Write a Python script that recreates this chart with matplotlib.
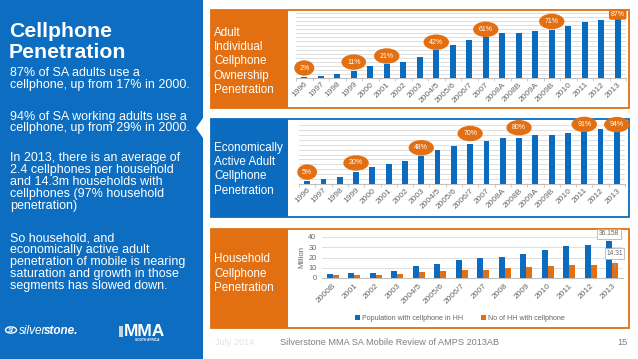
import matplotlib
matplotlib.use("Agg")
import matplotlib.pyplot as plt
from matplotlib.patches import Rectangle, Polygon, Circle
import numpy as np

plt.rcParams['font.family'] = ['Liberation Sans', 'DejaVu Sans']

# ---------------- data ----------------
years_a = ['1996', '1997', '1998', '1999', '2000', '2001', '2002', '2003', '2004/5', '2005/6',
           '2006/7', '2007', '2008A', '2008B', '2009A', '2009B', '2010', '2011', '2012', '2013']
adult_pen = [2, 3, 6, 11, 17, 21, 24, 31, 42, 49, 56, 61, 67, 67, 69, 71, 77, 82, 85, 87]
adult_labeled = [0, 3, 5, 8, 11, 15, 19]

active_pen = [5, 8, 12, 20, 29, 34, 39, 48, 58, 65, 70, 74, 80, 80, 84, 85, 88, 91, 95, 94]
active_labeled = [0, 3, 7, 10, 13, 17, 19]

years_h = ['2000B', '2001', '2002', '2003', '2004/5', '2005/6', '2006/7', '2007', '2008',
           '2009', '2010', '2011', '2012', '2013']
pop_hh = [3.9, 4.5, 5.2, 7.1, 11.4, 14.0, 17.2, 19.2, 20.8, 23.4, 27.0, 31.2, 31.8, 36.158]
hh_cell = [2.6, 2.9, 3.2, 4.2, 5.8, 7.1, 7.8, 8.1, 9.4, 10.7, 11.7, 13.0, 13.0, 14.31]
hh_series = ['Population with cellphone in HH', 'No of HH with cellphone']

title_lines = ['Cellphone', 'Penetration']
paragraphs = [
    ['87% of SA adults use a', 'cellphone, up from 17% in 2000.'],
    ['94% of SA working adults use a', 'cellphone, up from 29% in 2000.'],
    ['In 2013, there is an average of', '2.4 cellphones per household', 'and 14.3m households with',
     'cellphones (97% household', 'penetration)'],
    ['So household, and', 'economically active adult', 'penetration of mobile is nearing',
     'saturation and growth in those', 'segments has slowed down.'],
]
panel_titles = [
    ['Adult', 'Individual', 'Cellphone', 'Ownership', 'Penetration'],
    ['Economically', 'Active Adult', 'Cellphone', 'Penetration'],
    ['Household', 'Cellphone', 'Penetration'],
]
footer_date = 'July 2014'
footer_text = 'Silverstone MMA SA Mobile Review of AMPS 2013AB'
page_no = '15'

# ---------------- styles ----------------
BLUE = '#0b6cbf'
PANEL_BLUE = '#0c6dc1'
ORANGE = '#e26f12'
GRID = '#d9d9d9'
TXT = '#666666'

W, H = 638, 359
fig = plt.figure(figsize=(W / 100, H / 100), dpi=100)
fig.patch.set_facecolor('white')


def rect(x0, y0, x1, y1, **kw):
    fig.add_artist(Rectangle((x0 / W, 1 - y1 / H), (x1 - x0) / W, (y1 - y0) / H,
                             transform=fig.transFigure, zorder=-5, **kw))


def ftext(x, y, s, **kw):
    return fig.text(x / W, 1 - y / H, s, **kw)


def axes_px(x0, y0, x1, y1):
    ax = fig.add_axes([x0 / W, 1 - y1 / H, (x1 - x0) / W, (y1 - y0) / H])
    ax.set_zorder(2)
    return ax


# ---------------- left panel ----------------
rect(0, 0, 203, 359, facecolor=PANEL_BLUE, edgecolor='none')
fig.add_artist(Polygon([(203 / W, 1 - 118 / H), (196 / W, 1 - 128 / H), (203 / W, 1 - 138 / H)],
                       closed=True, transform=fig.transFigure, facecolor='white', edgecolor='none',
                       zorder=-4))
for i, line in enumerate(title_lines):
    ftext(9, 37 + 21 * i, line, color='white', fontsize=15.3, fontweight='bold', va='baseline')
starts = [76.2, 119.5, 161.2, 241.2]
for para, y0 in zip(paragraphs, starts):
    for j, line in enumerate(para):
        ftext(10, y0 + 11.9 * j, line, color='white', fontsize=9, va='baseline')

# logos
fig.add_artist(Circle((11 / W, 1 - 330 / H), 5.5 / W, transform=fig.transFigure,
                      facecolor='none', edgecolor='white', lw=1.0))
ftext(11, 330, 'SI', color='white', fontsize=4.5, fontweight='bold', ha='center', va='center',
      style='italic')
ftext(19, 333.5, 'silver', color='white', fontsize=8.5, style='italic', va='baseline')
ftext(44, 333.5, 'stone.', color='white', fontsize=8.5, style='italic', fontweight='bold',
      va='baseline')
rect(119, 326, 123, 337, facecolor='#c9d3dd', edgecolor='none')
ftext(124, 336, 'MMA', color='white', fontsize=12.5, fontweight='bold', va='baseline')
ftext(160, 341, 'SOUTH AFRICA', color='white', fontsize=2.3, fontweight='bold', ha='right',
      va='baseline')

# ---------------- right panels ----------------
panels = [(211, 10, 629, 108, ORANGE), (211, 119, 629, 217, BLUE), (211, 229, 629, 328, ORANGE)]
for (x0, y0, x1, y1, c) in panels:
    rect(x0, y0, x1, y1, facecolor='white', edgecolor=c, lw=1.3)
    rect(x0, y0, 288, y1, facecolor=c, edgecolor='none')

title_starts = [35.9, 151.0, 262.5]
for lines, y0 in zip(panel_titles, title_starts):
    for j, line in enumerate(lines):
        ftext(214, y0 + 14.2 * j, line, color='white', fontsize=8.4, va='baseline')


def style_cat_axes(ax, labels, ymax, gstep):
    n = len(labels)
    ax.set_xlim(-0.5, n - 0.5)
    ax.set_ylim(0, ymax)
    ax.set_facecolor('none')
    for s in ['top', 'right', 'left']:
        ax.spines[s].set_visible(False)
    ax.spines['bottom'].set_color('#bfbfbf')
    ax.spines['bottom'].set_linewidth(0.8)
    ax.set_yticks([])
    for g in np.arange(gstep, ymax + 0.01, gstep):
        ax.axhline(g, color=GRID, lw=0.6, zorder=0)
    ax.set_xticks(range(n))
    ax.set_xticklabels(labels, rotation=45, ha='right', rotation_mode='anchor',
                       fontsize=6, color=TXT)
    ax.set_xticks(np.arange(-0.5, n, 1), minor=True)
    ax.tick_params(axis='x', which='major', length=0, pad=2)
    ax.tick_params(axis='x', which='minor', length=2.5, color='#bfbfbf')


def label_bars(ax, vals, idxs, offsets_pt, last_box=False):
    for k, i in enumerate(idxs):
        box = dict(boxstyle='ellipse,pad=0.28', fc=ORANGE, ec='none')
        if last_box and k == len(idxs) - 1:
            box = dict(boxstyle='round,pad=0.25,rounding_size=0.3', fc=ORANGE, ec='none')
        ax.annotate(f'{vals[i]}%', xy=(i, vals[i]), xytext=(0, offsets_pt[k]),
                    textcoords='offset points', ha='center', va='center', fontsize=5,
                    color='white', bbox=box, annotation_clip=False, zorder=5)


# chart 1
ax1 = axes_px(296, 13, 626, 78)
x = np.arange(len(years_a))
ax1.bar(x, adult_pen, width=0.35, color=BLUE, zorder=3)
style_cat_axes(ax1, years_a, 96, 6)
label_bars(ax1, adult_pen, adult_labeled, [6.2, 6.1, 5.6, 5.3, 5.3, 6.1, 3.3], last_box=True)

# chart 2
ax2 = axes_px(299, 125, 625, 184)
ax2.bar(x, active_pen, width=0.35, color=BLUE, zorder=3)
style_cat_axes(ax2, years_a, 102, 8.5)
label_bars(ax2, active_pen, active_labeled, [6.5, 6.8, 6.1, 7.2, 7.2, 5.0, 3.6])

# chart 3
ax3 = axes_px(322, 237, 623, 278)
xh = np.arange(len(years_h))
bw = 0.28
b1 = ax3.bar(xh - bw / 2, pop_hh, width=bw, color=BLUE, zorder=3, label=hh_series[0])
b2 = ax3.bar(xh + bw / 2, hh_cell, width=bw, color=ORANGE, zorder=3, label=hh_series[1])
ax3.set_xlim(-0.5, len(years_h) - 0.5)
ax3.set_ylim(0, 40)
ax3.set_facecolor('none')
for s in ['top', 'right', 'left']:
    ax3.spines[s].set_visible(False)
ax3.spines['bottom'].set_color('#bfbfbf')
ax3.spines['bottom'].set_linewidth(0.8)
ax3.set_yticks([0, 10, 20, 30, 40])
ax3.tick_params(axis='y', length=0, labelsize=5.3, labelcolor=TXT, pad=4)
for g in [10, 20, 30, 40]:
    ax3.axhline(g, color=GRID, lw=0.6, zorder=0)
ax3.set_xticks(xh)
ax3.set_xticklabels(years_h, rotation=45, ha='right', rotation_mode='anchor', fontsize=6,
                    color=TXT)
ax3.tick_params(axis='x', length=0, pad=3)
ax3.set_ylabel('Million', fontsize=5.6, color=TXT, labelpad=2)

n3 = len(years_h) - 1
ax3.annotate(f'{pop_hh[n3]:.3f}', xy=(n3 - bw / 2, pop_hh[n3]), xytext=(0, 5),
             textcoords='offset points', ha='center', va='center', fontsize=4.8, color=TXT,
             bbox=dict(boxstyle='square,pad=0.25', fc='white', ec='#a6a6a6', lw=0.5),
             arrowprops=dict(arrowstyle='-', color='#a6a6a6', lw=0.5), annotation_clip=False,
             zorder=6)
ax3.annotate(f'{hh_cell[n3]:.2f}', xy=(n3 + bw / 2, hh_cell[n3] - 8), xytext=(-0.5, 13),
             textcoords='offset points', ha='center', va='center', fontsize=4.8, color=TXT,
             bbox=dict(boxstyle='square,pad=0.25', fc='white', ec='#a6a6a6', lw=0.5),
             arrowprops=dict(arrowstyle='-', color='#a6a6a6', lw=0.5), annotation_clip=False,
             zorder=6)

fig.legend(handles=[b1, b2], labels=hh_series, loc='center',
           bbox_to_anchor=(460 / W, 1 - 318 / H), ncol=2, fontsize=5.1, frameon=False,
           handlelength=0.7, handleheight=0.7, handletextpad=0.3, columnspacing=2.6,
           labelcolor=TXT)

# ---------------- footer ----------------
ftext(215, 345, footer_date, color='#dfe5ec', fontsize=6.6, va='baseline')
ftext(280, 345, footer_text, color='#7f7f7f', fontsize=6.6, va='baseline')
ftext(628, 345, page_no, color='#7f7f7f', fontsize=6.6, va='baseline', ha='right')

fig.savefig('out.png', dpi=100)
